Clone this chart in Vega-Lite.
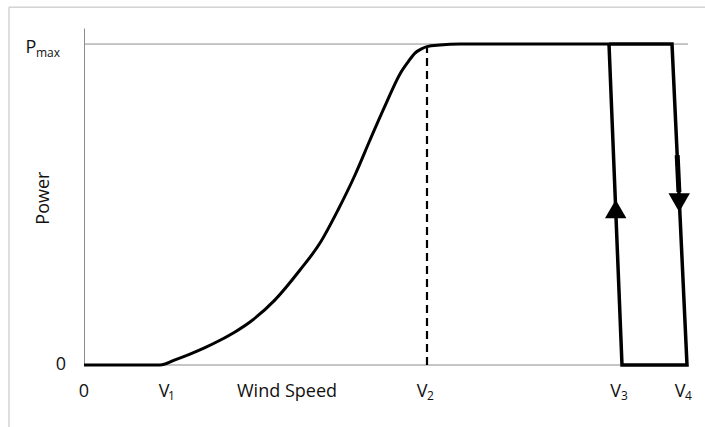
{
  "$schema": "https://vega.github.io/schema/vega-lite/v6.json",
  "autosize": "none",
  "width": 621,
  "height": 337,
  "padding": {"left": 84, "top": 28, "right": 0, "bottom": 62},
  "background": "white",
  "config": {"view": {"stroke": null}, "font": "Open Sans"},
  "datasets": {
    "frame": [{"x": -75, "x2": 800, "y": 1.115, "y2": -0.6}],
    "grid": [{"x": 0, "x2": 604, "y": 0}, {"x": 0, "x2": 604, "y": 1}],
    "v2line": [{"x": 343, "y": 0, "y2": 0.99}],
    "curve": [
      {"x": 0, "y": 0}, {"x": 76, "y": 0}, {"x": 91, "y": 0.016}, {"x": 106, "y": 0.034},
      {"x": 121, "y": 0.054}, {"x": 136, "y": 0.077}, {"x": 151, "y": 0.103}, {"x": 166, "y": 0.134},
      {"x": 191, "y": 0.203}, {"x": 216, "y": 0.296}, {"x": 236, "y": 0.38}, {"x": 254, "y": 0.483},
      {"x": 271, "y": 0.592}, {"x": 286, "y": 0.701}, {"x": 301, "y": 0.807}, {"x": 316, "y": 0.907},
      {"x": 324, "y": 0.944}, {"x": 331, "y": 0.972}, {"x": 337, "y": 0.984}, {"x": 343, "y": 0.992},
      {"x": 356, "y": 0.997}, {"x": 376, "y": 1.0}, {"x": 525, "y": 1.0}
    ],
    "loop": [
      {"o": 1, "x": 525, "y": 1}, {"o": 2, "x": 588, "y": 1}, {"o": 3, "x": 603, "y": 0},
      {"o": 4, "x": 538, "y": 0}, {"o": 5, "x": 525, "y": 1}
    ],
    "thick": [{"x": 593.2, "y": 0.654}, {"x": 594.9, "y": 0.539}],
    "arrows": [
      {"x": 531.7, "y": 0.486, "shape": "triangle-up"},
      {"x": 595.2, "y": 0.506, "shape": "triangle-down"}
    ],
    "labels": [
      {"x": 0, "y": -0.1, "t": "0"},
      {"x": 80, "y": -0.1, "t": "V"},
      {"x": 203, "y": -0.1, "t": "Wind Speed"},
      {"x": 338, "y": -0.1, "t": "V"},
      {"x": 531.5, "y": -0.1, "t": "V"},
      {"x": 596, "y": -0.1, "t": "V"},
      {"x": -23, "y": -0.017, "t": "0"},
      {"x": -53, "y": 0.972, "t": "P"}
    ],
    "subs": [
      {"x": 84, "y": -0.109, "t": "1"},
      {"x": 343, "y": -0.109, "t": "2"},
      {"x": 537, "y": -0.109, "t": "3"},
      {"x": 601, "y": -0.109, "t": "4"},
      {"x": -48, "y": 0.96, "t": "max"}
    ],
    "ytitle": [{"x": -40, "y": 0.52, "t": "Power"}]
  },
  "encoding": {
    "x": {"field": "x", "type": "quantitative", "scale": {"domain": [0, 621], "nice": false, "zero": false}, "axis": null},
    "y": {"field": "y", "type": "quantitative", "scale": {"domain": [0, 1.05], "nice": false, "zero": false},
      "axis": {"domain": true, "domainColor": "#8c8c8c", "domainWidth": 1, "labels": false, "ticks": false, "grid": false, "title": null}}
  },
  "layer": [
    {"data": {"name": "frame"}, "mark": {"type": "rect", "filled": false, "color": "#bdbdbd", "strokeWidth": 1},
      "encoding": {"x2": {"field": "x2"}, "y2": {"field": "y2"}}},
    {"data": {"name": "grid"}, "mark": {"type": "rule", "color": "#8c8c8c", "strokeWidth": 1},
      "encoding": {"x2": {"field": "x2"}}},
    {"data": {"name": "v2line"}, "mark": {"type": "rule", "color": "#000", "strokeWidth": 2.2, "strokeDash": [8, 5]},
      "encoding": {"y2": {"field": "y2"}}},
    {"data": {"name": "curve"}, "mark": {"type": "line", "color": "#000", "strokeWidth": 3, "interpolate": "monotone"}},
    {"data": {"name": "loop"}, "mark": {"type": "line", "color": "#000", "strokeWidth": 3.5, "strokeJoin": "miter"},
      "encoding": {"order": {"field": "o", "type": "quantitative"}}},
    {"data": {"name": "thick"}, "mark": {"type": "line", "color": "#000", "strokeWidth": 5}},
    {"data": {"name": "arrows"}, "mark": {"type": "point", "filled": true, "color": "#000", "size": 460, "opacity": 1},
      "encoding": {"shape": {"field": "shape", "type": "nominal", "scale": null}}},
    {"data": {"name": "labels"}, "mark": {"type": "text", "fontSize": 18, "align": "center", "baseline": "alphabetic", "color": "#111"},
      "encoding": {"text": {"field": "t"}}},
    {"data": {"name": "subs"}, "mark": {"type": "text", "fontSize": 12, "align": "left", "baseline": "alphabetic", "color": "#111"},
      "encoding": {"text": {"field": "t"}}},
    {"data": {"name": "ytitle"}, "mark": {"type": "text", "fontSize": 18, "align": "center", "baseline": "middle", "angle": 270, "color": "#111"},
      "encoding": {"text": {"field": "t"}}}
  ]
}
